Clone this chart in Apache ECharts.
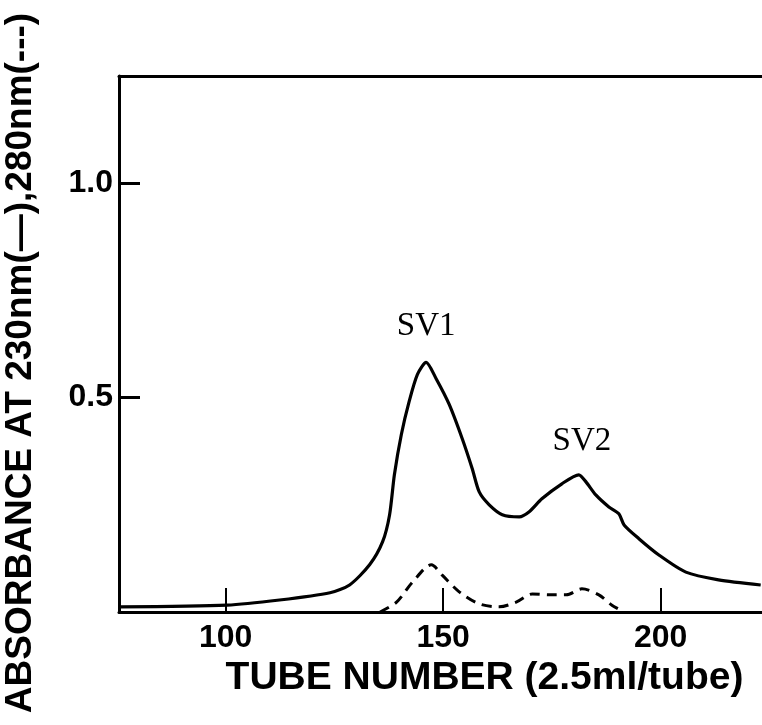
<!DOCTYPE html>
<html>
<head>
<meta charset="utf-8">
<script src="https://cdn.jsdelivr.net/npm/echarts@6/dist/echarts.min.js"></script>
<style>
html,body{margin:0;padding:0;background:#fff;}
#chart{width:762px;height:725px;}
</style>
</head>
<body>
<div id="chart"></div>
<script>
// Absorbance at 230 nm (solid line): [tube number, absorbance]
const tube230 = [75.5, 100.3, 112.4, 124, 128.5, 133.1, 136.1, 137.7, 138.8, 140.4, 142.2, 144.1, 146.1, 148.4, 151.4, 154.4, 156.7, 158.3, 160.6, 163.6, 167.5, 169.8, 172.7, 177.3, 181.2, 182.8, 185.1, 188.1, 190.4, 191.6, 195.0, 199.6, 205.8, 213.3, 223.0];
const abs230  = [0.012, 0.016, 0.028, 0.045, 0.063, 0.110, 0.164, 0.227, 0.320, 0.414, 0.491, 0.554, 0.582, 0.544, 0.484, 0.404, 0.334, 0.280, 0.250, 0.227, 0.222, 0.234, 0.264, 0.299, 0.320, 0.304, 0.273, 0.245, 0.229, 0.203, 0.171, 0.133, 0.093, 0.075, 0.063];
// Absorbance at 280 nm (dashed line)
const tube280 = [135.5, 139.3, 143.0, 147.3, 149.8, 153.7, 158.3, 162.9, 166.8, 170.5, 174.4, 178.3, 181.9, 185.8, 188.8, 191.6];
const abs280  = [0.0, 0.023, 0.070, 0.110, 0.086, 0.047, 0.019, 0.012, 0.023, 0.042, 0.040, 0.040, 0.054, 0.040, 0.016, 0.0];
// Axis ticks
const xTicks = [100, 150, 200];
const yTicks = [0.5, 1.0];
// Peak annotations
const peakNames = ['SV1', 'SV2'];
const peakCoords = [[146.1, 0.666], [181.9, 0.397]];

const zip = (a, b) => a.map((v, i) => [v, b[i]]);

const chart = echarts.init(document.getElementById('chart'));
const X_MIN = 75.5, X_MAX = 223.3;
chart.setOption({
  animation: false,
  backgroundColor: '#fff',
  grid: { left: 119, right: 0, top: 76, bottom: 113, containLabel: false, outerBoundsMode: 'none' },
  xAxis: [{
    type: 'value', min: X_MIN, max: X_MAX, position: 'bottom',
    splitLine: { show: false },
    axisLine: { show: true, onZero: false, lineStyle: { color: '#000', width: 3 } },
    axisTick: { show: true, inside: true, length: 24, customValues: xTicks, lineStyle: { color: '#000', width: 2 } },
    axisLabel: { show: true, customValues: xTicks, margin: 10, color: '#000', fontFamily: 'Liberation Sans', fontWeight: 'bold', fontSize: 32 },
    name: 'TUBE NUMBER (2.5ml/tube)', nameLocation: 'middle', nameGap: 42,
    nameTextStyle: { color: '#000', fontFamily: 'Liberation Sans', fontWeight: 'bold', fontSize: 39, padding: [0, 0, 0, 88] }
  }, {
    type: 'value', min: X_MIN, max: X_MAX, position: 'top',
    splitLine: { show: false },
    axisLine: { show: true, onZero: false, lineStyle: { color: '#000', width: 3 } },
    axisTick: { show: false }, axisLabel: { show: false }
  }],
  yAxis: {
    type: 'value', min: 0, max: 1.25,
    splitLine: { show: false },
    axisLine: { show: true, onZero: false, lineStyle: { color: '#000', width: 3 } },
    axisTick: { show: true, inside: true, length: 21, customValues: yTicks, lineStyle: { color: '#000', width: 3 } },
    axisLabel: { show: true, customValues: yTicks, margin: 6, color: '#000', fontFamily: 'Liberation Sans', fontWeight: 'bold', fontSize: 32,
      formatter: v => v.toFixed(1) },
    name: 'ABSORBANCE AT 230nm(\u2014),280nm(---)', nameLocation: 'middle', nameGap: 80, nameRotate: 90,
    nameTextStyle: { color: '#000', fontFamily: 'Liberation Sans', fontWeight: 'bold', fontSize: 37, padding: [0, 38, 0, 0] }
  },
  series: [{
    type: 'line', data: zip(tube230, abs230), smooth: 0.25, symbol: 'none',
    lineStyle: { color: '#000', width: 3.2 },
    markPoint: {
      symbol: 'circle', symbolSize: 0,
      label: { show: true, position: 'inside', color: '#000', fontFamily: 'Liberation Serif', fontSize: 33, formatter: p => p.name },
      data: peakNames.map((n, i) => ({ name: n, coord: peakCoords[i] }))
    }
  }, {
    type: 'line', data: zip(tube280, abs280), smooth: 0.3, symbol: 'none',
    lineStyle: { color: '#000', width: 3, type: [10, 7] }
  }]
});
</script>
</body>
</html>
